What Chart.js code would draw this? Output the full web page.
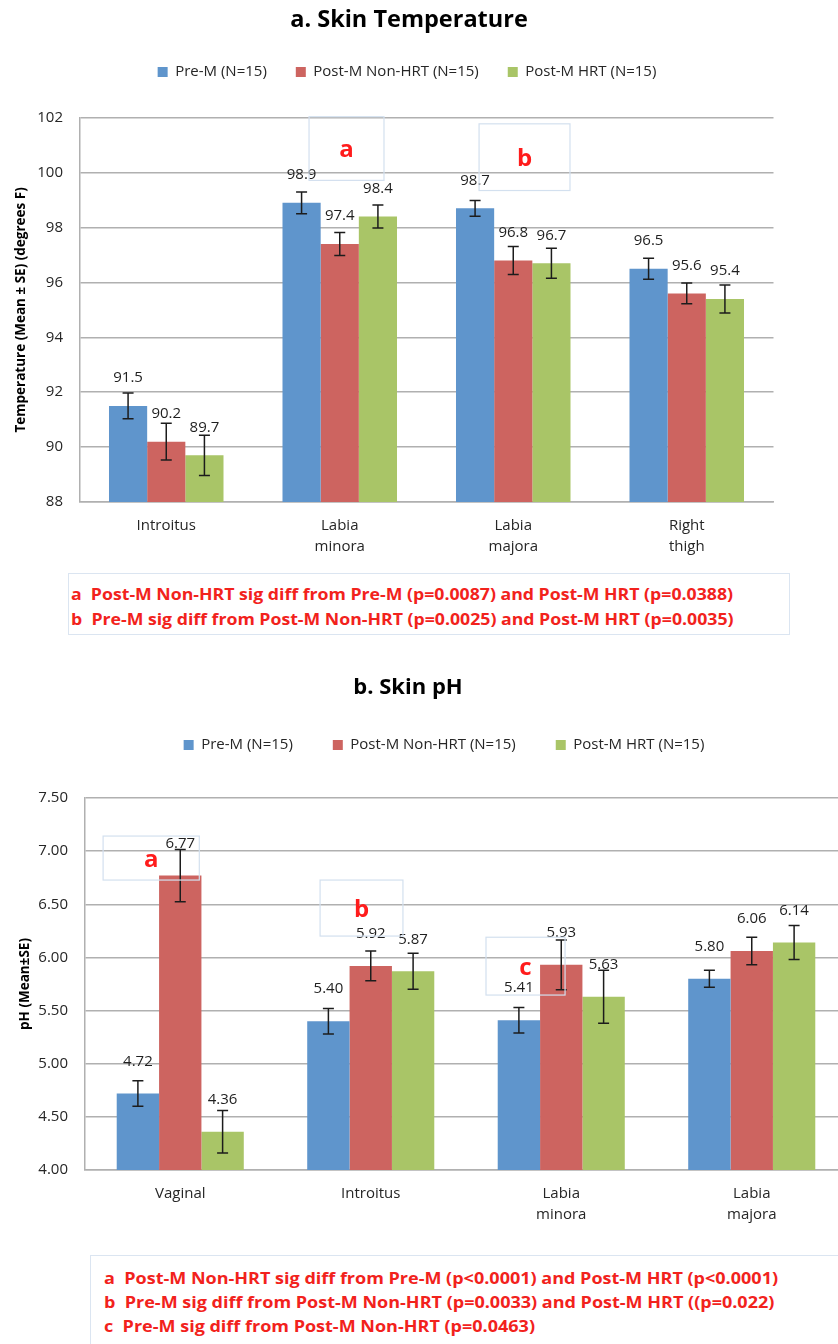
<!DOCTYPE html>
<html>
<head>
<meta charset="utf-8">
<script src="https://cdn.jsdelivr.net/npm/chart.js@4.4.1/dist/chart.umd.min.js"></script>
<style>
  html, body { margin: 0; padding: 0; background: #fff; }
  body { position: relative; width: 838px; height: 1344px; overflow: hidden; font-family: 'Open Sans', sans-serif; }
  .panel { position: absolute; left: 0; overflow: hidden; }
  .panel canvas { display: block; }
  #panelA { top: 0; width: 838px; height: 568px; }
  #panelB { top: 650px; width: 838px; height: 588px; }
  .note { position: absolute; box-sizing: border-box; border: 1px solid #dbe5f1; color: #f2221c;
          font-weight: 700; font-size: 16px; white-space: pre; overflow: hidden; }
  .note span { display: inline-block; transform-origin: 0 50%; }
  #noteA { left: 68px; top: 573px; width: 722px; height: 62px; padding: 8px 0 0 2px; line-height: 25px; }
  #noteB { left: 90px; top: 1255px; width: 770px; height: 100px; padding: 10px 0 0 13px; line-height: 24px; }
</style>
</head>
<body>
<div class="panel" id="panelA"><canvas id="chartA" width="838" height="568"></canvas></div>
<div class="note" id="noteA"></div>
<div class="panel" id="panelB"><canvas id="chartB" width="860" height="588"></canvas></div>
<div class="note" id="noteB"></div>

<script>
// ---- Series shared by both panels ----
const seriesNames = ['Pre-M (N=15)', 'Post-M Non-HRT (N=15)', 'Post-M HRT (N=15)'];
const seriesColors = ['#5f95cc', '#cd6460', '#a9c567'];

// ---- a. Skin temperature (degrees F), mean and SE ----
const tempSites = [['Introitus'], ['Labia', 'minora'], ['Labia', 'majora'], ['Right', 'thigh']];
const tempPreM = [91.5, 98.9, 98.7, 96.5];
const tempPostNonHRT = [90.2, 97.4, 96.8, 95.6];
const tempPostHRT = [89.7, 98.4, 96.7, 95.4];
const tempPreMSE = [0.47, 0.40, 0.29, 0.38];
const tempPostNonHRTSE = [0.67, 0.42, 0.51, 0.38];
const tempPostHRTSE = [0.73, 0.42, 0.55, 0.51];
const tempAxis = { min: 88, max: 102, step: 2 };
const tempNotes = [
  'a  Post-M Non-HRT sig diff from Pre-M (p=0.0087) and Post-M HRT (p=0.0388)',
  'b  Pre-M sig diff from Post-M Non-HRT (p=0.0025) and Post-M HRT (p=0.0035)'
];
// significance call-outs: letter plus box extent in category / value units
const tempMarkers = [
  { letter: 'a', from: 0.823, to: 1.255, top: 102.04, bottom: 99.72 },
  { letter: 'b', from: 1.803, to: 2.327, top: 101.78, bottom: 99.35 }
];

// ---- b. Skin pH, mean and SE ----
const phSites = [['Vaginal'], ['Introitus'], ['Labia', 'minora'], ['Labia', 'majora']];
const phPreM = [4.72, 5.40, 5.41, 5.80];
const phPostNonHRT = [6.77, 5.92, 5.93, 6.06];
const phPostHRT = [4.36, 5.87, 5.63, 6.14];
const phPreMSE = [0.12, 0.12, 0.12, 0.08];
const phPostNonHRTSE = [0.245, 0.14, 0.235, 0.13];
const phPostHRTSE = [0.20, 0.17, 0.25, 0.16];
const phAxis = { min: 4.0, max: 7.5, step: 0.5 };
const phNotes = [
  'a  Post-M Non-HRT sig diff from Pre-M (p<0.0001) and Post-M HRT (p<0.0001)',
  'b  Pre-M sig diff from Post-M Non-HRT (p=0.0033) and Post-M HRT ((p=0.022)',
  'c  Pre-M sig diff from Post-M Non-HRT (p=0.0463)'
];
const phMarkers = [
  { letter: 'a', from: -0.405, to: 0.10, top: 7.142, bottom: 6.728 },
  { letter: 'b', from: 0.734, to: 1.169, top: 6.728, bottom: 6.201 },
  { letter: 'c', from: 1.605, to: 2.02, top: 6.19, bottom: 5.646 }
];

const FONT = "'Open Sans', sans-serif";
const TEXT = '#262626';
const GRID = '#b0b0b0';

Chart.defaults.font.family = FONT;
Chart.defaults.color = TEXT;

// Moves the title and legend to fixed centres after layout.
const placeHeader = {
  id: 'placeHeader',
  afterLayout(chart, args, opts) {
    const t = chart.titleBlock;
    if (t && opts.title) {
      const w = t.right - t.left, h = t.bottom - t.top;
      const lh = opts.titleSize * 1.2;
      t.left = opts.title.x - w / 2; t.right = t.left + w;
      t.top = opts.title.y - lh / 2; t.bottom = t.top + h;
    }
    const lg = chart.legend;
    if (lg && opts.legend) {
      const w = lg.right - lg.left, h = lg.bottom - lg.top;
      const ih = Math.max(opts.legendSize, opts.legendBox);
      lg.left = opts.legend.x - w / 2; lg.right = lg.left + w;
      lg.top = opts.legend.y - opts.legendPad - ih / 2; lg.bottom = lg.top + h;
    }
  }
};

// Error bars (mean ± SE) and value labels above each bar.
const barExtras = {
  id: 'barExtras',
  afterDatasetsDraw(chart, args, opts) {
    const ctx = chart.ctx;
    const yScale = chart.scales.y;
    ctx.save();
    chart.data.datasets.forEach((ds, di) => {
      const meta = chart.getDatasetMeta(di);
      meta.data.forEach((bar, i) => {
        const v = ds.data[i], e = ds.errors[i];
        const x = bar.x;
        const yT = yScale.getPixelForValue(v + e);
        const yB = yScale.getPixelForValue(v - e);
        const cap = 5.5;
        ctx.strokeStyle = '#1c1c1c';
        ctx.lineWidth = 1.5;
        ctx.beginPath();
        ctx.moveTo(x, yT); ctx.lineTo(x, yB);
        ctx.moveTo(x - cap, yT); ctx.lineTo(x + cap, yT);
        ctx.moveTo(x - cap, yB); ctx.lineTo(x + cap, yB);
        ctx.stroke();
        ctx.fillStyle = '#1f1f1f';
        ctx.font = '15px ' + FONT;
        ctx.textAlign = 'center';
        ctx.textBaseline = 'middle';
        ctx.fillText(v.toFixed(opts.decimals), x, bar.y - opts.offset);
      });
    });
    ctx.restore();
  }
};

// Outlined call-out boxes carrying the significance letters.
const markers = {
  id: 'markers',
  afterDatasetsDraw(chart, args, opts) {
    const ctx = chart.ctx;
    const xs = chart.scales.x, ys = chart.scales.y;
    ctx.save();
    opts.items.forEach(m => {
      const l = xs.getPixelForValue(m.from), r = xs.getPixelForValue(m.to);
      const t = ys.getPixelForValue(m.top), b = ys.getPixelForValue(m.bottom);
      ctx.strokeStyle = '#d3e0ef';
      ctx.lineWidth = 1.2;
      ctx.strokeRect(l, t, r - l, b - t);
      ctx.fillStyle = '#ff1c1c';
      ctx.font = 'bold 24px ' + FONT;
      ctx.textAlign = 'center';
      ctx.textBaseline = 'middle';
      ctx.fillText(m.letter, (l + r) / 2, (t + b) / 2 + 2);
    });
    ctx.restore();
  }
};

function makeDatasets(values, errors) {
  return values.map((vals, k) => ({
    label: seriesNames[k],
    data: vals,
    errors: errors[k],
    backgroundColor: seriesColors[k],
    borderWidth: 0
  }));
}

function makeChart(canvasId, cfg) {
  return new Chart(document.getElementById(canvasId), {
    type: 'bar',
    data: { labels: cfg.labels, datasets: makeDatasets(cfg.values, cfg.errors) },
    options: {
      responsive: false,
      animation: false,
      devicePixelRatio: 1,
      layout: { padding: cfg.padding },
      datasets: { bar: { categoryPercentage: cfg.catPct, barPercentage: 1 } },
      plugins: {
        tooltip: { enabled: false },
        title: { display: true, text: cfg.title, color: '#000', padding: 0,
                 font: { size: cfg.titleSize, weight: 'bold' } },
        legend: { display: true, position: 'top',
                  labels: { boxWidth: 10, boxHeight: 10, padding: cfg.legendPad, color: TEXT,
                            font: { size: 15 } } },
        placeHeader: { title: cfg.titlePos, legend: cfg.legendPos, titleSize: cfg.titleSize,
                       legendSize: 15, legendBox: 10, legendPad: cfg.legendPad },
        barExtras: { decimals: cfg.decimals, offset: cfg.labelOffset },
        markers: { items: cfg.markers }
      },
      scales: {
        x: {
          grid: { display: false, drawTicks: false },
          border: { display: true, color: GRID, width: 1.5 },
          ticks: { padding: 13.5, color: TEXT, font: { size: 15, lineHeight: 1.4 } },
          afterFit: s => { s.height = 62; }
        },
        y: {
          min: cfg.axis.min, max: cfg.axis.max,
          ticks: { stepSize: cfg.axis.step, padding: cfg.tickPad, color: TEXT, font: { size: 15 },
                   callback: v => Number(v).toFixed(cfg.tickDecimals) },
          grid: { color: GRID, lineWidth: 1.5, drawTicks: false },
          border: { display: true, color: GRID, width: 1.5 },
          title: { display: true, text: cfg.yTitle, color: '#000',
                   font: { size: 13.5, weight: 'bold' }, padding: { top: cfg.yTitlePad, bottom: 0 } },
          afterFit: s => { s.width = cfg.axisLeft; }
        }
      }
    },
    plugins: [placeHeader, barExtras, markers]
  });
}

makeChart('chartA', {
  title: 'a. Skin Temperature', titleSize: 23.5,
  labels: tempSites,
  values: [tempPreM, tempPostNonHRT, tempPostHRT],
  errors: [tempPreMSE, tempPostNonHRTSE, tempPostHRTSE],
  axis: tempAxis, tickDecimals: 0,
  yTitle: 'Temperature (Mean \u00b1 SE) (degrees F)',
  padding: { top: 35.6, right: 64.5, bottom: 4, left: 0 },
  axisLeft: 79.5, tickPad: 16.5, yTitlePad: 13.5,
  catPct: 0.66, legendPad: 29,
  titlePos: { x: 409, y: 20 }, legendPos: { x: 407, y: 72 },
  decimals: 1, labelOffset: 28,
  markers: tempMarkers
});

makeChart('chartB', {
  title: 'b. Skin pH', titleSize: 22,
  labels: phSites,
  values: [phPreM, phPostNonHRT, phPostHRT],
  errors: [phPreMSE, phPostNonHRTSE, phPostHRTSE],
  axis: phAxis, tickDecimals: 2,
  yTitle: 'pH (Mean\u00b1SE)',
  padding: { top: 56.6, right: 13, bottom: 6, left: 0 },
  axisLeft: 85, tickPad: 17, yTitlePad: 17,
  catPct: 0.667, legendPad: 40,
  titlePos: { x: 408, y: 38 }, legendPos: { x: 444, y: 95 },
  decimals: 2, labelOffset: 32,
  markers: phMarkers
});

// Footnotes: one line per note, condensed so the first line spans the given width.
function fillNotes(boxId, lines, firstLineWidth) {
  const box = document.getElementById(boxId);
  const spans = lines.map(text => {
    const row = document.createElement('div');
    const span = document.createElement('span');
    span.textContent = text;
    row.appendChild(span);
    box.appendChild(row);
    return span;
  });
  const k = firstLineWidth / spans[0].getBoundingClientRect().width;
  spans.forEach(s => { s.style.transform = 'scaleX(' + k.toFixed(4) + ')'; });
}
fillNotes('noteA', tempNotes, 662);
fillNotes('noteB', phNotes, 674);
</script>
</body>
</html>
